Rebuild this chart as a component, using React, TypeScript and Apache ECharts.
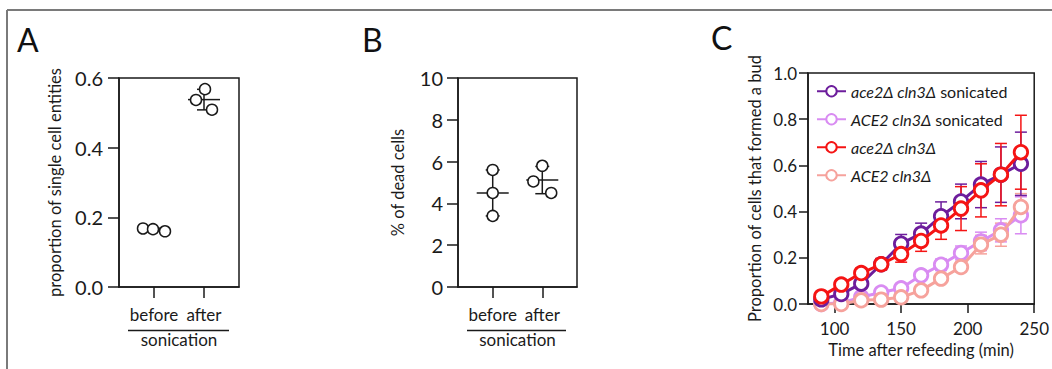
import React, { useEffect, useRef } from "react";
import * as echarts from "echarts";

// ---------- Data ----------
const groupLabels = ["before", "after"];

// Panel A: proportion of single cell entities
const singleBefore = [0.168, 0.166, 0.16];
const singleBeforeJitter = [-0.22, -0.02, 0.22];
const singleAfter = [0.568, 0.537, 0.509];
const singleAfterJitter = [0.02, -0.16, 0.16];

// Panel B: % of dead cells
const deadBefore = [5.6, 4.5, 3.4];
const deadBeforeJitter = [0, 0, 0];
const deadAfter = [5.8, 5.05, 4.5];
const deadAfterJitter = [0, -0.18, 0.18];

// Panel C: time course
const times = [90, 105, 120, 135, 150, 165, 180, 195, 210, 225, 240];
const purpleMean = [0.02, 0.043, 0.088, 0.172, 0.261, 0.305, 0.38, 0.444, 0.517, 0.56, 0.607];
const purpleErr = [0.01, 0.012, 0.02, 0.02, 0.04, 0.045, 0.062, 0.075, 0.1, 0.12, 0.137];
const lilacMean = [0.0, 0.005, 0.03, 0.05, 0.068, 0.124, 0.17, 0.221, 0.271, 0.319, 0.384];
const lilacErr = [0.005, 0.008, 0.01, 0.012, 0.015, 0.02, 0.025, 0.03, 0.04, 0.05, 0.08];
const redMean = [0.033, 0.084, 0.134, 0.172, 0.216, 0.273, 0.34, 0.413, 0.492, 0.56, 0.657];
const redErr = [0.01, 0.015, 0.02, 0.025, 0.035, 0.045, 0.06, 0.095, 0.115, 0.135, 0.16];
const pinkMean = [0.0, 0.0, 0.016, 0.019, 0.029, 0.059, 0.11, 0.16, 0.257, 0.3, 0.42];
const pinkErr = [0.004, 0.005, 0.008, 0.008, 0.01, 0.01, 0.015, 0.02, 0.04, 0.05, 0.058];

const seriesNames = [
  "ace2Δ cln3Δ sonicated",
  "ACE2 cln3Δ sonicated",
  "ace2Δ cln3Δ",
  "ACE2 cln3Δ",
];
const legendParts: Record<string, [string, string]> = {
  "ace2Δ cln3Δ sonicated": ["ace2Δ cln3Δ", " sonicated"],
  "ACE2 cln3Δ sonicated": ["ACE2 cln3Δ", " sonicated"],
  "ace2Δ cln3Δ": ["ace2Δ cln3Δ", ""],
  "ACE2 cln3Δ": ["ACE2 cln3Δ", ""],
};

const FONT = "Lato";
const INK = "#1a1a1a";

function meanSd(v: number[]) {
  const m = v.reduce((a, b) => a + b, 0) / v.length;
  const sd = Math.sqrt(v.reduce((a, b) => a + (b - m) * (b - m), 0) / (v.length - 1));
  return [m, sd];
}

function summaryData(groups: number[][]) {
  return groups.map((g, i) => {
    const [m, sd] = meanSd(g);
    return [i, m, m - sd, m + sd];
  });
}

function pointData(groups: number[][], jitters: number[][]) {
  const out: number[][] = [];
  groups.forEach((g, i) => g.forEach((v, j) => out.push([i + jitters[i][j], v])));
  return out;
}

const meanRender = (params: any, api: any) => {
  const x = api.value(0);
  const pm = api.coord([x, api.value(1)]);
  const plo = api.coord([x, api.value(2)]);
  const phi = api.coord([x, api.value(3)]);
  const st = { stroke: INK, lineWidth: 1.5 };
  return {
    type: "group",
    children: [
      { type: "line", shape: { x1: plo[0], y1: plo[1], x2: phi[0], y2: phi[1] }, style: st },
      { type: "line", shape: { x1: pm[0] - 16, y1: pm[1], x2: pm[0] + 16, y2: pm[1] }, style: st },
      { type: "line", shape: { x1: plo[0] - 7, y1: plo[1], x2: plo[0] + 7, y2: plo[1] }, style: st },
      { type: "line", shape: { x1: phi[0] - 7, y1: phi[1], x2: phi[0] + 7, y2: phi[1] }, style: st },
    ],
  };
};

const errRender = (color: string) => (params: any, api: any) => {
  const x = api.value(0);
  const plo = api.coord([x, api.value(1)]);
  const phi = api.coord([x, api.value(2)]);
  const st = { stroke: color, lineWidth: 1.5 };
  return {
    type: "group",
    children: [
      { type: "line", shape: { x1: plo[0], y1: plo[1], x2: phi[0], y2: phi[1] }, style: st },
      { type: "line", shape: { x1: plo[0] - 6, y1: plo[1], x2: plo[0] + 6, y2: plo[1] }, style: st },
      { type: "line", shape: { x1: phi[0] - 6, y1: phi[1], x2: phi[0] + 6, y2: phi[1] }, style: st },
    ],
  };
};

export default function App() {
  const ref = useRef<HTMLDivElement>(null);

  useEffect(() => {
    if (!ref.current) return;
    const chart = echarts.init(ref.current, undefined, { renderer: "svg" });

    const axisLineStyle = { lineStyle: { color: INK, width: 1.5 } };

    const catXAxis = (gridIndex: number) => ({
      type: "value",
      gridIndex,
      min: -0.7,
      max: 1.7,
      name: "sonication",
      nameLocation: "middle",
      nameGap: 44,
      nameTextStyle: { fontFamily: FONT, fontSize: 17, color: INK },
      axisLine: { show: true, onZero: false, ...axisLineStyle },
      axisTick: { show: true, length: 11, customValues: [0, 1], lineStyle: { color: INK, width: 1.5 } },
      axisLabel: {
        customValues: [0, 1],
        formatter: (v: number) => groupLabels[Math.round(v)],
        fontFamily: FONT,
        fontSize: 17,
        color: INK,
        margin: 19,
      },
      splitLine: { show: false },
    });

    const colors = {
      purple: "#6d1d9c",
      lilac: "#d98cf2",
      red: "#f51414",
      pink: "#f6a29c",
    };

    const lineSeries = (name: string, data: number[], color: string, z: number) => ({
      type: "line",
      name,
      xAxisIndex: 2,
      yAxisIndex: 2,
      data: times.map((t, i) => [t, data[i]]),
      symbol: "circle",
      symbolSize: 13.5,
      lineStyle: { color, width: 3 },
      itemStyle: { color: "#fff", borderColor: color, borderWidth: 2.8 },
      z,
    });

    const errSeries = (data: number[], err: number[], color: string, z: number) => ({
      type: "custom",
      xAxisIndex: 2,
      yAxisIndex: 2,
      renderItem: errRender(color),
      data: times.map((t, i) => [t, data[i] - err[i], data[i] + err[i]]),
      z,
      silent: true,
    });

    const yAxisBase = {
      type: "value",
      nameLocation: "middle",
      axisLine: { show: true, onZero: false, ...axisLineStyle },
      splitLine: { show: false },
    };

    const option: any = {
      animation: false,
      backgroundColor: "#fff",
      textStyle: { fontFamily: FONT },
      graphic: [
        { type: "line", shape: { x1: 7, y1: 10, x2: 1052, y2: 10 }, style: { stroke: "#7a7a7a", lineWidth: 2 } },
        { type: "line", shape: { x1: 7, y1: 10, x2: 7, y2: 369 }, style: { stroke: "#7a7a7a", lineWidth: 2 } },
        { type: "text", left: 17, top: 23, style: { text: "A", fontFamily: FONT, fontSize: 32, fill: "#111" } },
        { type: "text", left: 362, top: 23, style: { text: "B", fontFamily: FONT, fontSize: 32, fill: "#111" } },
        { type: "text", left: 711, top: 21, style: { text: "C", fontFamily: FONT, fontSize: 32, fill: "#111" } },
        { type: "line", shape: { x1: 128, y1: 330.5, x2: 229, y2: 330.5 }, style: { stroke: INK, lineWidth: 1.5 } },
        { type: "line", shape: { x1: 467, y1: 330.5, x2: 566, y2: 330.5 }, style: { stroke: INK, lineWidth: 1.5 } },
      ],
      grid: [
        { left: 119, top: 78, width: 120, height: 209, show: true, borderColor: INK, borderWidth: 1.5 },
        { left: 458, top: 78, width: 119, height: 209, show: true, borderColor: INK, borderWidth: 1.5 },
        { left: 808, top: 73, width: 232, height: 231, show: true, borderColor: INK, borderWidth: 1.5 },
      ],
      xAxis: [
        catXAxis(0),
        catXAxis(1),
        {
          type: "value",
          gridIndex: 2,
          min: 80,
          max: 250,
          name: "Time after refeeding (min)",
          nameLocation: "middle",
          nameGap: 37,
          nameTextStyle: { fontFamily: FONT, fontSize: 16.5, color: INK },
          axisLine: { show: true, onZero: false, ...axisLineStyle },
          axisTick: { show: true, length: 9, customValues: [100, 150, 200, 250], lineStyle: { color: INK, width: 1.5 } },
          axisLabel: { customValues: [100, 150, 200, 250], fontFamily: FONT, fontSize: 17, color: INK, margin: 16 },
          splitLine: { show: false },
        },
      ],
      yAxis: [
        {
          ...yAxisBase,
          gridIndex: 0,
          min: 0,
          max: 0.6,
          interval: 0.2,
          name: "proportion of single cell entities",
          nameGap: 56,
          nameTextStyle: { fontFamily: FONT, fontSize: 16.5, color: INK },
          axisTick: { show: true, length: 11, lineStyle: { color: INK, width: 1.5 } },
          axisLabel: { formatter: (v: number) => v.toFixed(1), fontFamily: FONT, fontSize: 20, color: INK, margin: 16 },
        },
        {
          ...yAxisBase,
          gridIndex: 1,
          min: 0,
          max: 10,
          interval: 2,
          name: "% of dead cells",
          nameGap: 52,
          nameTextStyle: { fontFamily: FONT, fontSize: 16.5, color: INK },
          axisTick: { show: true, length: 11, lineStyle: { color: INK, width: 1.5 } },
          axisLabel: { fontFamily: FONT, fontSize: 20, color: INK, margin: 15 },
        },
        {
          ...yAxisBase,
          gridIndex: 2,
          min: 0,
          max: 1,
          interval: 0.2,
          name: "Proportion of cells that formed a bud",
          nameGap: 45,
          nameTextStyle: { fontFamily: FONT, fontSize: 16.5, color: INK },
          axisTick: { show: true, length: 9, lineStyle: { color: INK, width: 1.5 } },
          axisLabel: { formatter: (v: number) => v.toFixed(1), fontFamily: FONT, fontSize: 17, color: INK, margin: 11 },
        },
      ],
      legend: {
        data: seriesNames,
        orient: "vertical",
        left: 811,
        top: 77,
        itemWidth: 29,
        itemHeight: 13,
        itemGap: 9.5,
        selectedMode: false,
        formatter: (name: string) => {
          const [it, rest] = legendParts[name];
          return rest ? `{i|${it}}{n|${rest}}` : `{i|${it}}`;
        },
        textStyle: {
          fontFamily: FONT,
          fontSize: 16,
          color: INK,
          lineHeight: 18.5,
          rich: {
            i: { fontFamily: FONT, fontSize: 16, fontStyle: "italic", color: INK },
            n: { fontFamily: FONT, fontSize: 16, color: INK },
          },
        },
      },
      series: [
        // Panel A
        {
          type: "custom",
          xAxisIndex: 0,
          yAxisIndex: 0,
          renderItem: meanRender,
          data: summaryData([singleBefore, singleAfter]),
          z: 2,
          silent: true,
        },
        {
          type: "scatter",
          xAxisIndex: 0,
          yAxisIndex: 0,
          data: pointData([singleBefore, singleAfter], [singleBeforeJitter, singleAfterJitter]),
          symbol: "circle",
          symbolSize: 11,
          itemStyle: { color: "#fff", borderColor: INK, borderWidth: 1.5, opacity: 1 },
          z: 3,
        },
        // Panel B
        {
          type: "custom",
          xAxisIndex: 1,
          yAxisIndex: 1,
          renderItem: meanRender,
          data: summaryData([deadBefore, deadAfter]),
          z: 2,
          silent: true,
        },
        {
          type: "scatter",
          xAxisIndex: 1,
          yAxisIndex: 1,
          data: pointData([deadBefore, deadAfter], [deadBeforeJitter, deadAfterJitter]),
          symbol: "circle",
          symbolSize: 11,
          itemStyle: { color: "#fff", borderColor: INK, borderWidth: 1.5, opacity: 1 },
          z: 3,
        },
        // Panel C error bars
        errSeries(lilacMean, lilacErr, colors.lilac, 2),
        errSeries(pinkMean, pinkErr, colors.pink, 2),
        errSeries(purpleMean, purpleErr, colors.purple, 2),
        errSeries(redMean, redErr, colors.red, 2),
        // Panel C lines (drawing order light -> dark)
        lineSeries(seriesNames[1], lilacMean, colors.lilac, 3),
        lineSeries(seriesNames[3], pinkMean, colors.pink, 4),
        lineSeries(seriesNames[0], purpleMean, colors.purple, 5),
        lineSeries(seriesNames[2], redMean, colors.red, 6),
      ],
    };

    chart.setOption(option);
    return () => chart.dispose();
  }, []);

  return (
    <div
      ref={ref}
      style={{ position: "absolute", left: 0, top: 0, width: 1052, height: 369, background: "#fff" }}
    />
  );
}
